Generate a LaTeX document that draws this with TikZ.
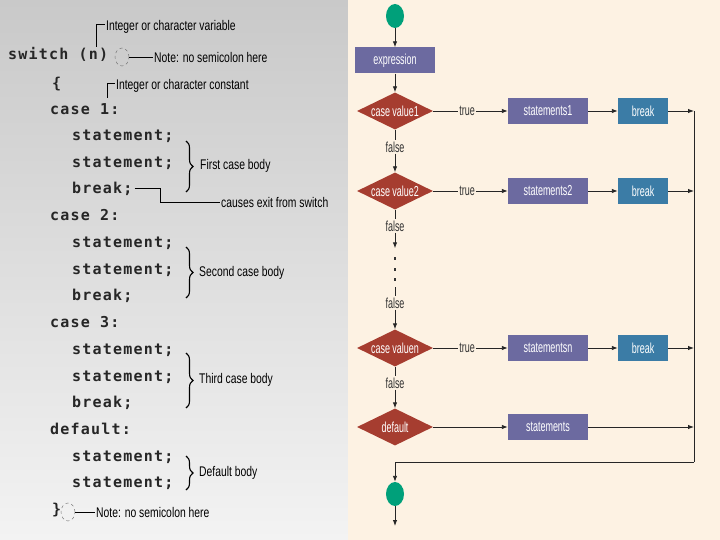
\documentclass[tikz,border=0pt]{standalone}
\usepackage{fontspec}
\usetikzlibrary{arrows.meta,shapes.geometric,decorations.pathreplacing}
\newfontfamily\flowfont[FakeStretch=0.62]{Liberation Sans}
\newfontfamily\notefont[FakeStretch=0.74]{Liberation Sans}
\newfontfamily\codefont[LetterSpace=8]{DejaVu Sans Mono}
\definecolor{procPurple}{RGB}{108,106,160}
\definecolor{caseRed}{RGB}{166,61,48}
\definecolor{brkBlue}{RGB}{59,124,166}
\definecolor{termGreen}{RGB}{0,160,122}
\definecolor{creamBg}{RGB}{253,242,227}
\definecolor{grayTop}{RGB}{201,201,201}
\definecolor{grayBot}{RGB}{243,243,243}

\begin{document}
\begin{tikzpicture}[x=1pt, y=-1pt, >={Latex[length=6pt,width=4.5pt]},
	every node/.style={font=\flowfont\fontsize{14.5}{16}\selectfont},
	code/.style={anchor=mid west, inner sep=0pt, text=black!85, font=\codefont\bfseries\fontsize{15}{17}\selectfont},
	note/.style={anchor=west, inner sep=1pt, text=black, font=\notefont\fontsize{14}{16}\selectfont},
	body/.style={decorate, decoration={brace, amplitude=7pt}, line width=1.1pt},
	nosemi/.style={draw=black!60, dashed, ellipse, minimum width=14pt, minimum height=18pt, inner sep=0pt},
	proc/.style={rectangle, fill=procPurple, text=white, minimum width=80pt, minimum height=26pt, inner sep=0pt},
	brk/.style={rectangle, fill=brkBlue, text=white, minimum width=50pt, minimum height=26pt, inner sep=0pt},
	dia/.style={diamond, fill=caseRed, text=white, minimum width=76pt, minimum height=37pt, inner sep=0pt, aspect=2},
	term/.style={ellipse, fill=termGreen, minimum width=18pt, minimum height=24pt, inner sep=0pt},
	lbl/.style={inner sep=1pt, text=black!80},
	dotmark/.style={rectangle, fill=black!80, minimum width=1.5pt, minimum height=3pt, inner sep=0pt},
	flow/.style={line width=0.9pt, black!85}]
	\useasboundingbox (0,0) rectangle (720,540);
	\shade[top color=grayTop, bottom color=grayBot] (0,0) rectangle (348,540);
	\fill[creamBg] (348,0) rectangle (720,540);

	% the switch statement
	\node[code] (sw) at (8,57) {switch (n)};
	\node[code] (lb) at (52,86) {\{};
	\node[code] (c1) at (50,112) {case 1:};
	\node[code] (s1a) at (72,138) {statement;};
	\node[code] (s1b) at (72,165) {statement;};
	\node[code] (b1) at (72,191) {break;};
	\node[code] (c2) at (50,218) {case 2:};
	\node[code] (s2a) at (72,245) {statement;};
	\node[code] (s2b) at (72,272) {statement;};
	\node[code] (b2) at (72,298) {break;};
	\node[code] (c3) at (50,325) {case 3:};
	\node[code] (s3a) at (72,352) {statement;};
	\node[code] (s3b) at (72,379) {statement;};
	\node[code] (b3) at (72,405) {break;};
	\node[code] (cd) at (50,432) {default:};
	\node[code] (sda) at (72,459) {statement;};
	\node[code] (sdb) at (72,485) {statement;};
	\node[code] (rb) at (52,512) {\}};

	% notes on the code
	\node[note] (var) at (105,27) {Integer or character variable};
	\coordinate (nv) at (96,47);
	\draw[line width=0.7pt] (nv) |- ([yshift=3pt]var.west);
	\node[nosemi] (ns1) at (122,57) {};
	\node[note] (note1) at (153,57) {Note: no semicolon here};
	\draw[line width=0.7pt] (ns1) -- (note1);
	\node[note] (kconst) at (115,86) {Integer or character constant};
	\coordinate (kc) at (107,98);
	\draw[line width=0.7pt] (kc) |- ([yshift=3pt]kconst.west);
	\node[note] (exit) at (220,202) {causes exit from switch};
	\draw[line width=0.7pt] ([xshift=2pt]b1.east) -- ++(26,0) |- (exit);
	\draw[body] (186,141) -- (186,192);
	\node[note] (bd1) at (199,166) {First case body};
	\draw[body] (186,247) -- (186,298);
	\node[note] (bd2) at (198,273) {Second case body};
	\draw[body] (186,353) -- (186,408);
	\node[note] (bd3) at (198,380) {Third case body};
	\draw[body] (186,456) -- (186,490);
	\node[note] (bdd) at (198,473) {Default body};
	\node[nosemi] (ns2) at (68,512) {};
	\node[note] (note2) at (95,512) {Note: no semicolon here};
	\draw[line width=0.7pt] (ns2) -- (note2);

	% the flowchart
	\node[term] (start) at (395,16) {};
	\node[proc] (expr) at (395,60.5) {expression};
	\node[dia] (d1) at (395,111) {case value1};
	\node[lbl] (t1) at (467,111) {true};
	\node[proc] (st1) at (548,111) {statements1};
	\node[brk] (br1) at (643,111) {break};
	\node[lbl] (f1) at (395,147) {false};
	\node[dia] (d2) at (395,191) {case value2};
	\node[lbl] (t2) at (467,191) {true};
	\node[proc] (st2) at (548,191) {statements2};
	\node[brk] (br2) at (643,191) {break};
	\node[lbl] (f2) at (395,226) {false};
	\node[dotmark] (dt1) at (395,258) {};
	\node[dotmark] (dt2) at (395,269) {};
	\node[dotmark] (dt3) at (395,279) {};
	\node[lbl] (f3) at (395,303) {false};
	\node[dia] (dn) at (395,348) {case valuen};
	\node[lbl] (tn) at (467,348) {true};
	\node[proc] (stn) at (548,348) {statementsn};
	\node[brk] (brn) at (643,348) {break};
	\node[lbl] (fn) at (395,383) {false};
	\node[dia] (dd) at (395,427) {default};
	\node[proc] (std) at (548,427) {statements};
	\node[term] (stop) at (395,494) {};
	\coordinate (j1) at (694,111);
	\coordinate (j2) at (694,191);
	\coordinate (jn) at (694,348);
	\coordinate (jd) at (694,427);
	\coordinate (jbot) at (694,462);
	\coordinate (out) at (395,526);

	\draw[flow,->] (start) -- (expr);
	\draw[flow,->] (expr) -- (d1);
	\draw[flow] (d1) -- (t1);
	\draw[flow,->] (t1) -- (st1);
	\draw[flow,->] (st1) -- (br1);
	\draw[flow,->] (br1) -- (j1);
	\draw[flow] (d1) -- (f1);
	\draw[flow,->] (f1) -- (d2);
	\draw[flow] (d2) -- (t2);
	\draw[flow,->] (t2) -- (st2);
	\draw[flow,->] (st2) -- (br2);
	\draw[flow,->] (br2) -- (j2);
	\draw[flow] (d2) -- (f2);
	\draw[flow,->,shorten >=8pt] (f2) -- (dt1);
	\draw[flow] ([yshift=-8pt]dt3.center) -- (f3);
	\draw[flow,->] (f3) -- (dn);
	\draw[flow] (dn) -- (tn);
	\draw[flow,->] (tn) -- (stn);
	\draw[flow,->] (stn) -- (brn);
	\draw[flow,->] (brn) -- (jn);
	\draw[flow] (dn) -- (fn);
	\draw[flow,->] (fn) -- (dd);
	\draw[flow,->] (dd) -- (std);
	\draw[flow,->] (std) -- (jd);
	\draw[flow] (j1) -- (jbot);
	\draw[flow,->] (jbot) -| (stop);
	\draw[flow,->] (stop) -- (out);
\end{tikzpicture}
\end{document}
